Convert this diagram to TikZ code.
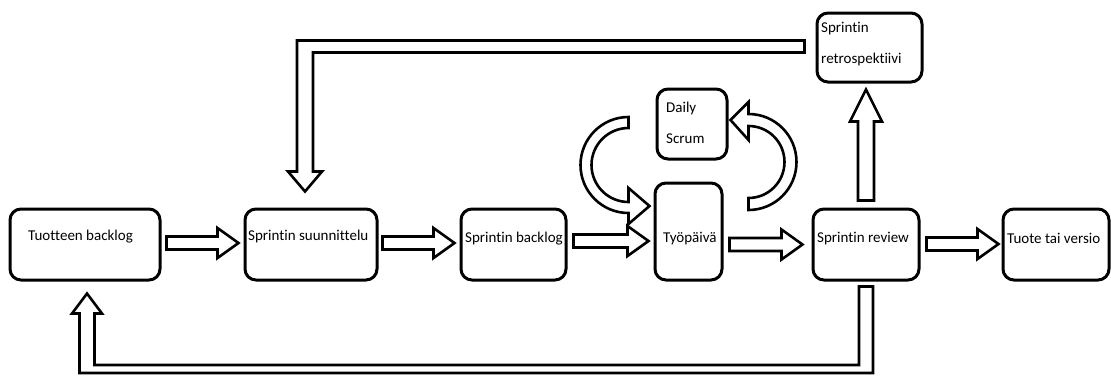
\documentclass[tikz,border=0pt]{standalone}
\usepackage{fontspec}
\setmainfont{Carlito}[Ligatures={NoCommon,NoRare,NoContextual}]
\usetikzlibrary{calc}

% straight block arrow pointing right, from point #1 to tip #2 (y taken from #1)
\newcommand\rightblock[2]{%
  \draw[blk] let \p1=#1, \p2=#2 in
    (\x1,\y1+6.5pt) -- (\x2-21pt,\y1+6.5pt) -- (\x2-21pt,\y1+15pt) -- (\x2,\y1)
    -- (\x2-21pt,\y1-15pt) -- (\x2-21pt,\y1-6.5pt) -- (\x1,\y1-6.5pt) -- cycle;}

\begin{document}
\begin{tikzpicture}[x=1pt,y=-1pt,
  stage/.style={draw=black, line width=3pt, rounded corners=11pt, fill=white, inner sep=0pt},
  lbl/.style={anchor=base west, inner sep=0pt, font=\fontsize{15}{18}\selectfont},
  blk/.style={draw=black, fill=white, line width=2.6pt, line join=miter}]
\useasboundingbox (0,0) rectangle (1111,376);

% process stages
\node[stage, minimum width=150pt, minimum height=71pt] (tb) at (85,244.5) {};
\node[stage, minimum width=132pt, minimum height=71pt] (ss) at (311,244.5) {};
\node[stage, minimum width=105pt, minimum height=71pt] (sb) at (513.5,244.5) {};
\node[stage, minimum width=67pt,  minimum height=97pt] (tp) at (688.5,231.5) {};
\node[stage, minimum width=70pt,  minimum height=70pt] (ds) at (692,124) {};
\node[stage, minimum width=106pt, minimum height=71pt] (sr) at (866,244.5) {};
\node[stage, minimum width=106pt, minimum height=71pt] (tv) at (1056,244.5) {};
\node[stage, minimum width=105pt, minimum height=69pt] (rt) at (869.5,47.5) {};

% stage texts
\node[lbl] at (28,240)   {Tuotteen backlog};
\node[lbl] at (248,240)  {Sprintin suunnittelu};
\node[lbl] at (465,242)  {Sprintin backlog};
\node[lbl] at (663,242)  {Työpäivä};
\node[lbl] at (666,112)  {Daily};
\node[lbl] at (666,143)  {Scrum};
\node[lbl] at (817,242)  {Sprintin review};
\node[lbl] at (1007,243) {Tuote tai versio};
\node[lbl] at (821,32)   {Sprintin};
\node[lbl] at (821,63)   {retrospektiivi};

% main flow
\rightblock{($(tb.east)+(5,-1.5)$)}{($(ss.west)+(-5,-1.5)$)}
\rightblock{($(ss.east)+(4,-1.5)$)}{($(sb.west)+(-5,-1.5)$)}
\rightblock{($(sb.east)+(6,-3.5)$)}{($(tp.west)+(-5,0)$)}
\rightblock{($(tp.east |- sr.west)+(6,0)$)}{($(sr.west)+(-9,0)$)}
\rightblock{($(sr.east)+(6,-0.5)$)}{($(tv.west)+(-3,0)$)}

% review -> retrospective
\draw[blk] let \p1=($(sr.north)+(0,-7)$), \p2=($(sr.north |- rt.south)+(0,6)$) in
  (\x1-8pt,\y1) -- (\x1-8pt,\y2-32pt) -- (\x1-16pt,\y2-32pt) -- (\x1,\y2)
  -- (\x1+16pt,\y2-32pt) -- (\x1+8pt,\y2-32pt) -- (\x1+8pt,\y1) -- cycle;

% retrospective -> sprint planning
\coordinate (rtail) at ($(rt.west)+(-11,-1)$);
\coordinate (stip) at ($(ss.north)+(-6,-16)$);
\draw[blk] let \p1=(rtail), \p2=(stip) in
  (\x1,\y1+6pt) -- (\x2-8pt,\y1+6pt) -- (\x2-8pt,\y2+20pt) -- (\x2-17pt,\y2+20pt)
  -- (\x2,\y2) -- (\x2+17pt,\y2+20pt) -- (\x2+8pt,\y2+20pt) -- (\x2+8pt,\y1-6pt)
  -- (\x1,\y1-6pt) -- cycle;

% review -> product backlog
\coordinate (rbot) at ($(sr.south)+(0,5)$);
\coordinate (btip) at ($(tb.south)+(2,12)$);
\coordinate (low) at (0,369);
\draw[blk] let \p1=(rbot), \p2=(btip), \p3=(low) in
  (\x1-7pt,\y1) -- (\x1+7pt,\y1) -- (\x1+7pt,\y3-4pt) -- (\x2-7.5pt,\y3-4pt)
  -- (\x2-7.5pt,\y2-20pt) -- (\x2-15pt,\y2-20pt) -- (\x2,\y2) -- (\x2+15pt,\y2-20pt)
  -- (\x2+7.5pt,\y2-20pt) -- (\x2+7.5pt,\y3+4pt) -- (\x1-7pt,\y3+4pt) -- cycle;

% daily scrum loop
\coordinate (lc) at ($(ds.west)+(-27,41)$);
\coordinate (rc) at ($(ds.east)+(20,38)$);
\draw[blk] ($(lc)+(0,-48)$) arc[start angle=-90, end angle=-270, radius=48]
  -- ++(0,11) -- ($(lc)+(21,41)$) -- ($(lc)+(0,23)$) -- ($(lc)+(0,37)$)
  arc[start angle=90, end angle=270, radius=37] -- cycle;
\draw[blk] ($(rc)+(0,48)$) arc[start angle=90, end angle=-90, radius=48]
  -- ++(0,-12) -- ($(rc)+(-18,-42)$) -- ($(rc)+(0,-22)$) -- ($(rc)+(0,-36)$)
  arc[start angle=-90, end angle=90, radius=36] -- cycle;
\end{tikzpicture}
\end{document}
